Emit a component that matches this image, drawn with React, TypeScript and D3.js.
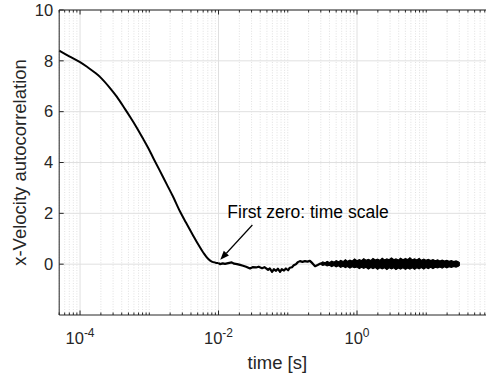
import React from "react";
import * as d3 from "d3";

// ---- data ----
const smoothT = [5e-5, 7e-5, 1e-4, 1.3e-4, 1.65e-4, 1.94e-4, 2.71e-4, 3.39e-4, 4.47e-4, 5.27e-4, 6.5e-4, 8.2e-4, 9.7e-4, 1.14e-3, 1.4e-3, 1.79e-3, 2.2e-3, 2.78e-3, 3.4e-3, 4.33e-3, 5.1e-3, 6.04e-3, 7.0e-3, 7.98e-3, 9.0e-3, 9.9e-3];
const smoothV = [8.40, 8.18, 7.95, 7.74, 7.53, 7.37, 6.93, 6.59, 6.10, 5.80, 5.40, 4.92, 4.56, 4.18, 3.71, 3.14, 2.66, 2.07, 1.63, 1.11, 0.77, 0.45, 0.22, 0.10, 0.06, 0.05];

const midT = [9.9e-3, 0.0105, 0.0115, 0.0124, 0.0138, 0.0155, 0.0168, 0.0185, 0.0205, 0.0226, 0.025, 0.0285, 0.031, 0.0348, 0.038, 0.0425, 0.046, 0.0519, 0.055, 0.0593, 0.063, 0.0677, 0.072, 0.0773, 0.082, 0.0883, 0.094, 0.101, 0.107, 0.115, 0.122, 0.131, 0.14, 0.15, 0.163, 0.177, 0.192, 0.209, 0.228, 0.248, 0.27, 0.292, 0.30];
const midV = [0.05, 0.0, 0.03, 0.01, 0.04, 0.07, 0.02, 0.0, -0.03, -0.06, -0.1, -0.17, -0.12, -0.13, -0.1, -0.16, -0.12, -0.22, -0.17, -0.3, -0.2, -0.26, -0.18, -0.3, -0.2, -0.25, -0.17, -0.24, -0.14, -0.12, -0.04, 0.0, 0.08, 0.12, 0.09, 0.12, 0.1, 0.13, 0.03, -0.08, -0.03, 0.02, 0.02];

// noisy tail: envelope of the fast fluctuations
const bandT = [0.30, 0.32, 0.345, 0.37, 0.40, 0.43, 0.465, 0.50, 0.54, 0.58, 0.63, 0.68, 0.73, 0.79, 0.85, 0.92, 1.0, 1.08, 1.16, 1.25, 1.35, 1.46, 1.58, 1.7, 1.84, 1.98, 2.14, 2.31, 2.5, 2.7, 2.9, 3.15, 3.4, 3.65, 3.95, 4.25, 4.6, 5.0, 5.4, 5.8, 6.3, 6.8, 7.3, 7.9, 8.5, 9.2, 9.9, 10.7, 11.6, 12.5, 13.5, 14.6, 15.7, 17, 18.3, 19.8, 21.4, 23.1, 24.9, 26.9, 29, 30];
const bandUpper = [0.04, 0.09, 0.05, 0.11, 0.06, 0.12, 0.08, 0.14, 0.09, 0.15, 0.10, 0.17, 0.11, 0.16, 0.12, 0.20, 0.13, 0.18, 0.14, 0.21, 0.15, 0.19, 0.14, 0.22, 0.16, 0.20, 0.15, 0.23, 0.16, 0.21, 0.17, 0.24, 0.17, 0.21, 0.16, 0.23, 0.17, 0.22, 0.18, 0.25, 0.17, 0.21, 0.16, 0.22, 0.15, 0.20, 0.15, 0.19, 0.14, 0.18, 0.13, 0.17, 0.12, 0.16, 0.12, 0.15, 0.11, 0.14, 0.10, 0.13, 0.09, 0.06];
const bandLower = [-0.01, -0.05, -0.02, -0.07, -0.04, -0.09, -0.05, -0.10, -0.06, -0.12, -0.08, -0.13, -0.09, -0.15, -0.10, -0.14, -0.11, -0.17, -0.12, -0.16, -0.12, -0.19, -0.13, -0.17, -0.13, -0.20, -0.14, -0.18, -0.14, -0.21, -0.14, -0.18, -0.14, -0.21, -0.15, -0.19, -0.14, -0.20, -0.15, -0.19, -0.14, -0.20, -0.14, -0.18, -0.13, -0.19, -0.13, -0.17, -0.12, -0.17, -0.12, -0.15, -0.11, -0.15, -0.10, -0.14, -0.10, -0.13, -0.09, -0.12, -0.08, -0.05];

const xMajor = [1e-4, 1e-2, 1e0, 1e2];
const xMajorLabels = ["-4", "-2", "0", ""];
const yTicks = [0, 2, 4, 6, 8, 10];
const xDomain = [5e-5, 100];
const yDomain = [-2, 10];

const annText = "First zero: time scale";
const annTail = { t: 0.0308, v: 1.54 };
const annHead = { t: 0.0106, v: 0.17 };
const annTextPos = { t: 0.0134, v: 1.81 };
const xLabel = "time [s]";
const yLabel = "x-Velocity autocorrelation";

export default function App() {
  const W = 486, H = 379;
  const L = 59.2, R = 495.5, T = 10, B = 315;
  const x = d3.scaleLog().domain(xDomain).range([L, R]);
  const y = d3.scaleLinear().domain(yDomain).range([B, T]);

  const minor: number[] = [];
  for (let e = -5; e <= 2; e++) {
    for (let k = 1; k <= 9; k++) {
      const v = k * Math.pow(10, e);
      if (v < xDomain[0] * 0.999 || v > xDomain[1] * 1.001) continue;
      if (xMajor.some((m) => Math.abs(m - v) / m < 1e-6)) continue;
      minor.push(v);
    }
  }

  const smoothPts = smoothT.map((t, i) => [x(t), y(smoothV[i])] as [number, number]);
  const midPts = midT.map((t, i) => [x(t), y(midV[i])] as [number, number]);
  const smoothLine = d3.line().curve(d3.curveCatmullRom.alpha(0.5));
  const midLine = d3.line();
  const area = d3.area<number>().x((d, i) => x(bandT[i])).y0((d, i) => y(bandLower[i])).y1((d) => y(d));

  const font = "'Liberation Sans', Arial, Helvetica, sans-serif";
  const axisColor = "#262626";

  // arrow
  const hx = x(annHead.t), hy = y(annHead.v);
  const tx = x(annTail.t), ty = y(annTail.v);
  const ang = Math.atan2(hy - ty, hx - tx);
  const aL = 9, aW = 3.5;
  const bx = hx - aL * Math.cos(ang), by = hy - aL * Math.sin(ang);
  const p1 = [bx + aW * Math.sin(ang), by - aW * Math.cos(ang)];
  const p2 = [bx - aW * Math.sin(ang), by + aW * Math.cos(ang)];

  return (
    <svg width={W} height={H} style={{ position: "absolute", left: 0, top: 0, background: "#fff" }} fontFamily={font}>
      <rect x={0} y={0} width={W} height={H} fill="#fff" />
      {/* minor grid */}
      {minor.map((v, i) => (
        <line key={"mg" + i} x1={x(v)} x2={x(v)} y1={T} y2={B} stroke="#d4d4d4" strokeWidth={0.7} strokeDasharray="1 1.6" />
      ))}
      {/* major grid */}
      {xMajor.map((v, i) => (
        <line key={"Mg" + i} x1={x(v)} x2={x(v)} y1={T} y2={B} stroke="#e0e0e0" strokeWidth={1} />
      ))}
      {yTicks.map((v, i) => (
        <line key={"yg" + i} x1={L} x2={R} y1={y(v)} y2={y(v)} stroke="#e0e0e0" strokeWidth={1} />
      ))}
      {/* data */}
      <path d={area(bandUpper) || ""} fill="#000" stroke="#000" strokeWidth={1.2} strokeLinejoin="miter" />
      <path d={smoothLine(smoothPts) || ""} fill="none" stroke="#000" strokeWidth={2} strokeLinejoin="round" />
      <path d={midLine(midPts) || ""} fill="none" stroke="#000" strokeWidth={2.2} strokeLinejoin="round" />
      {/* axes box */}
      <line x1={L} x2={R} y1={T} y2={T} stroke={axisColor} strokeWidth={1} />
      <line x1={L} x2={R} y1={B} y2={B} stroke={axisColor} strokeWidth={1} />
      <line x1={L} x2={L} y1={T} y2={B} stroke={axisColor} strokeWidth={1} />
      {/* ticks */}
      {minor.map((v, i) => (
        <g key={"mt" + i}>
          <line x1={x(v)} x2={x(v)} y1={B} y2={B - 2.5} stroke={axisColor} strokeWidth={1} />
          <line x1={x(v)} x2={x(v)} y1={T} y2={T + 2.5} stroke={axisColor} strokeWidth={1} />
        </g>
      ))}
      {xMajor.map((v, i) => (
        <g key={"Mt" + i}>
          <line x1={x(v)} x2={x(v)} y1={B} y2={B - 4.5} stroke={axisColor} strokeWidth={1} />
          <line x1={x(v)} x2={x(v)} y1={T} y2={T + 4.5} stroke={axisColor} strokeWidth={1} />
          {xMajorLabels[i] !== "" && (
            <text x={x(v)} y={344} textAnchor="middle" fontSize={16.5} fill={axisColor}>
              <tspan>10</tspan>
              <tspan dy={-7.5} fontSize={12}>{xMajorLabels[i]}</tspan>
            </text>
          )}
        </g>
      ))}
      {yTicks.map((v, i) => (
        <g key={"yt" + i}>
          <line x1={L} x2={L + 4.5} y1={y(v)} y2={y(v)} stroke={axisColor} strokeWidth={1} />
          <text x={L - 6} y={y(v) + 5.8} textAnchor="end" fontSize={16.5} fill={axisColor}>{v}</text>
        </g>
      ))}
      {/* labels */}
      <text x={x(Math.sqrt(xDomain[0] * xDomain[1]))} y={369} textAnchor="middle" fontSize={18.5} fill={axisColor}>{xLabel}</text>
      <text transform={`translate(26,${(T + B) / 2}) rotate(-90)`} textAnchor="middle" fontSize={18.5} fill={axisColor}>{yLabel}</text>
      {/* annotation */}
      <line x1={tx} y1={ty} x2={bx} y2={by} stroke="#000" strokeWidth={1.2} />
      <polygon points={`${hx},${hy} ${p1[0]},${p1[1]} ${p2[0]},${p2[1]}`} fill="#000" />
      <text x={x(annTextPos.t)} y={y(annTextPos.v)} fontSize={17.5} fill="#000">{annText}</text>
    </svg>
  );
}
